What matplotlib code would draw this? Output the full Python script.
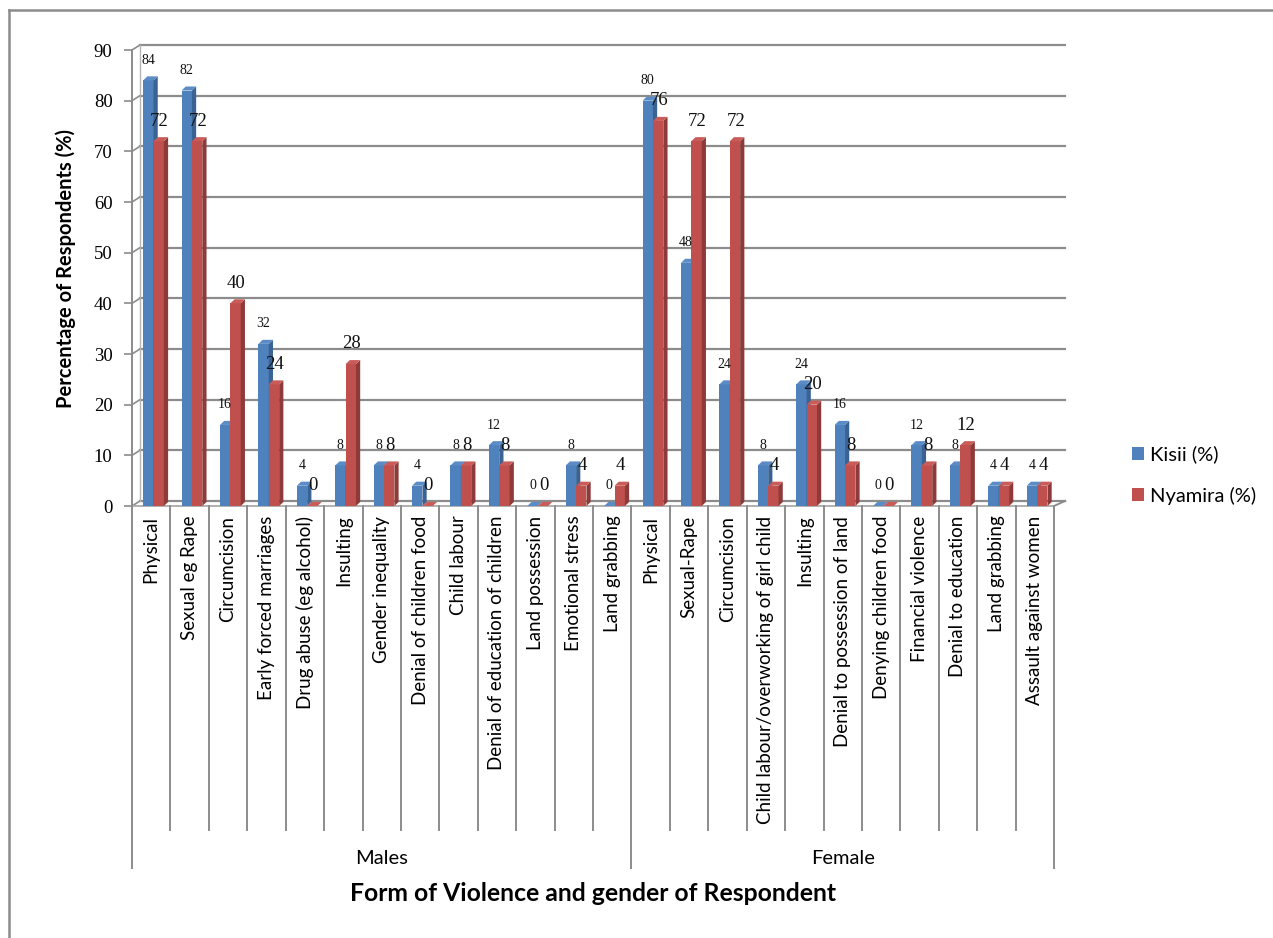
import numpy as np
import matplotlib
matplotlib.use("Agg")
import matplotlib.pyplot as plt
from matplotlib.patches import Polygon, Rectangle, Patch
from matplotlib.lines import Line2D
import matplotlib.transforms as mtransforms

# ---- data -------------------------------------------------------------
male_forms = ["Physical", "Sexual eg Rape", "Circumcision", "Early forced marriages",
              "Drug abuse (eg alcohol)", "Insulting", "Gender inequality",
              "Denial of children food", "Child labour", "Denial of education of children",
              "Land possession", "Emotional stress", "Land grabbing"]
male_kisii = [84, 82, 16, 32, 4, 8, 8, 4, 8, 12, 0, 8, 0]
male_nyamira = [72, 72, 40, 24, 0, 28, 8, 0, 8, 8, 0, 4, 4]

female_forms = ["Physical", "Sexual-Rape", "Circumcision",
                "Child labour/overworking of girl child", "Insulting",
                "Denial to possession of land", "Denying children food",
                "Financial violence", "Denial to education", "Land grabbing",
                "Assault against women"]
female_kisii = [80, 48, 24, 8, 24, 16, 0, 12, 8, 4, 4]
female_nyamira = [76, 72, 72, 4, 20, 8, 0, 8, 12, 4, 4]

groups = ["Males", "Female"]
series_names = ["Kisii (%)", "Nyamira (%)"]
y_ticks = list(range(0, 100, 10))

# ---- styling ----------------------------------------------------------
SANS = ["Lato", "DejaVu Sans"]
SERIF = ["Liberation Serif", "DejaVu Serif"]
BLUE, BLUE_SIDE, BLUE_TOP = "#4F81BD", "#3A6394", "#5B8CC6"
RED, RED_SIDE, RED_TOP = "#C0504D", "#8E3A38", "#C95C59"
GRID = "#8C8C8C"

forms = male_forms + female_forms
kisii = np.array(male_kisii + female_kisii, dtype=float)
nyamira = np.array(male_nyamira + female_nyamira, dtype=float)
n = len(forms)
n_male = len(male_forms)

fig = plt.figure(figsize=(12.73, 9.38), dpi=100)
ax = fig.add_axes([132 / 1273, 1 - 506 / 938, (1054 - 132) / 1273, 456 / 938])
ax.set_xlim(0, n)
ax.set_ylim(0, 90)

# back-wall offset of the pseudo-3D frame (data units)
WALL_DX, WALL_DY = 0.21, 1.0
# bar depth (data units)
DEP_X, DEP_Y = 0.11, 0.8

# back-wall gridlines with short connectors to the value axis
for v in y_ticks:
    ax.plot([WALL_DX, n + 0.29], [v + WALL_DY, v + WALL_DY], color=GRID, lw=1.6,
            clip_on=False, zorder=1)
    ax.plot([0, WALL_DX], [v, v + WALL_DY], color=GRID, lw=1.2, clip_on=False, zorder=1)
# floor front edge and right slant
ax.plot([0, n], [0, 0], color="#B0B0B0", lw=1.4, clip_on=False, zorder=1)
ax.plot([n, n + 0.29], [0, WALL_DY], color=GRID, lw=1.4, clip_on=False, zorder=1)
ax.plot([WALL_DX, WALL_DX], [WALL_DY, 90 + WALL_DY], color="#B5B5B5", lw=1.0,
        clip_on=False, zorder=1)


def bar3d(x0, w, h, face, side, top):
    ax.add_patch(Rectangle((x0, 0), w, h, facecolor=face, edgecolor="none", zorder=3))
    ax.add_patch(Polygon([(x0 + w, 0), (x0 + w + DEP_X, DEP_Y),
                          (x0 + w + DEP_X, h + DEP_Y), (x0 + w, h)],
                         closed=True, facecolor=side, edgecolor="none", zorder=3))
    ax.add_patch(Polygon([(x0, h), (x0 + w, h), (x0 + w + DEP_X, h + DEP_Y),
                          (x0 + DEP_X, h + DEP_Y)],
                         closed=True, facecolor=top, edgecolor="none", zorder=3))


BW = 0.27
for i in range(n):
    xb = i + 0.29
    xr = xb + BW
    bar3d(xb, BW, kisii[i], BLUE, BLUE_SIDE, BLUE_TOP)
    bar3d(xr, BW, nyamira[i], RED, RED_SIDE, RED_TOP)
    ax.annotate(f"{kisii[i]:.0f}", (xb + BW / 2, kisii[i]), xytext=(0, 14.5),
                textcoords="offset points", ha="center", va="center",
                fontsize=10, family=SERIF, color="#111111", zorder=5)
    ax.annotate(f"{nyamira[i]:.0f}", (xr + BW / 2 + 0.02, nyamira[i]), xytext=(0, 14.5),
                textcoords="offset points", ha="center", va="center",
                fontsize=13.5, family=SERIF, color="#111111", zorder=5)

# value axis
for s in ["top", "right", "bottom"]:
    ax.spines[s].set_visible(False)
ax.spines["left"].set_color(GRID)
ax.spines["left"].set_linewidth(1.4)
ax.set_yticks(y_ticks)
ax.set_yticklabels([str(t) for t in y_ticks], family=SERIF, fontsize=13.5)
ax.tick_params(axis="y", length=6, width=1.2, color=GRID, pad=8)
ax.set_xticks([])
ax.set_ylabel("Percentage of Respondents (%)", family=SANS, fontsize=14.5,
              fontweight="bold")
ax.yaxis.set_label_coords(-0.0605, 0.52)

# category axis: labels, separators and group labels
bt = mtransforms.blended_transform_factory(ax.transData, ax.transAxes)
for i, lab in enumerate(forms):
    ax.annotate(lab, (i + 0.5, 0), xycoords=bt, xytext=(0, -7),
                textcoords="offset points", rotation=90, ha="center", va="top",
                fontsize=13.5, family=SANS, annotation_clip=False)
for b in range(n + 1):
    is_group = b in (0, n_male, n)
    ax.plot([b, b], [0, -0.794 if is_group else -0.711], transform=bt,
            color=GRID, lw=1.4, clip_on=False)
ax.text(n_male / 2, -0.772, groups[0], transform=bt, ha="center", va="center",
        fontsize=14.5, family=SANS)
ax.text(n_male + (n - n_male) / 2, -0.772, groups[1], transform=bt, ha="center",
        va="center", fontsize=14.5, family=SANS)
ax.text(n / 2, -0.849, "Form of Violence and gender of Respondent", transform=bt,
        ha="center", va="center", fontsize=17.8, fontweight="bold", family=SANS)

# legend
handles = [Patch(facecolor=BLUE, edgecolor="none"), Patch(facecolor=RED, edgecolor="none")]
fig.legend(handles, series_names, loc="center left",
           bbox_to_anchor=(1114 / 1273, 1 - 475 / 938), frameon=False,
           prop={"family": SANS, "size": 14.5}, handlelength=0.6, handleheight=0.6,
           handletextpad=0.3, labelspacing=1.15)

# outer chart frame
fig.add_artist(Line2D([9 / 1273, 9 / 1273], [0, 1 - 10 / 938], color=GRID, lw=1.8))
fig.add_artist(Line2D([9 / 1273, 1], [1 - 10 / 938, 1 - 10 / 938], color=GRID, lw=1.8))

fig.savefig("out.png", dpi=100)
